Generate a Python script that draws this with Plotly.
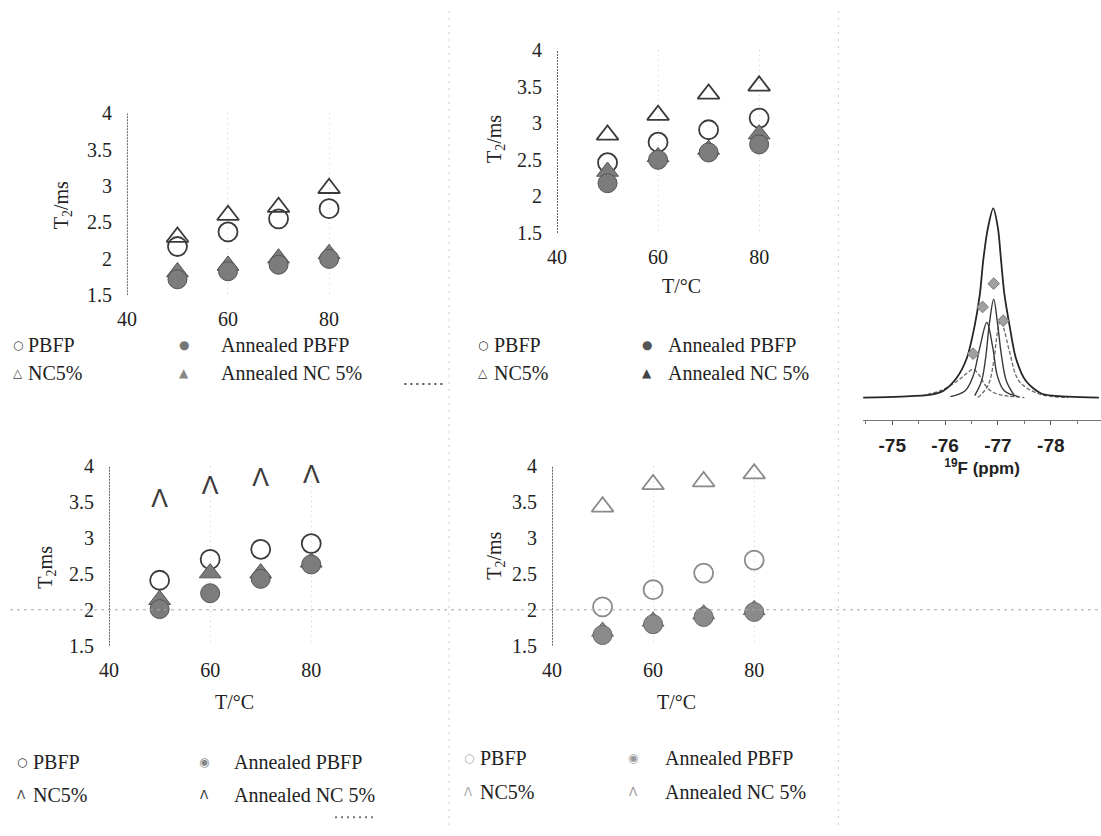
import plotly.graph_objects as go

W, H = 1101, 836

# ---- shared axis values ----
temps = [50, 60, 70, 80]
x_tick_vals = [40, 60, 80]
y_tick_vals = [1.5, 2, 2.5, 3, 3.5, 4]
y_tick_text = ["1.5", "2", "2.5", "3", "3.5", "4"]

# ---- T2 (ms) vs temperature, four panels ----
p1_pbfp = [2.17, 2.37, 2.55, 2.69]
p1_nc5 = [2.30, 2.60, 2.71, 2.97]
p1_ann_pbfp = [1.72, 1.83, 1.92, 2.00]
p1_ann_nc5 = [1.82, 1.91, 2.01, 2.07]

p2_pbfp = [2.46, 2.74, 2.91, 3.07]
p2_nc5 = [2.84, 3.11, 3.40, 3.51]
p2_ann_pbfp = [2.18, 2.50, 2.60, 2.71]
p2_ann_nc5 = [2.34, 2.54, 2.64, 2.85]

p3_pbfp = [2.41, 2.70, 2.84, 2.92]
p3_nc5 = [3.51, 3.69, 3.81, 3.85]
p3_ann_pbfp = [2.01, 2.23, 2.43, 2.63]
p3_ann_nc5 = [2.14, 2.51, 2.51, 2.66]

p4_pbfp = [2.04, 2.28, 2.51, 2.69]
p4_nc5 = [3.43, 3.74, 3.78, 3.89]
p4_ann_pbfp = [1.65, 1.80, 1.90, 1.97]
p4_ann_nc5 = [1.70, 1.84, 1.94, 2.00]

# ---- 19F spectrum with fitted components ----
spec_ticks = [-75, -76, -77, -78]
spec_tick_text = ["-75", "-76", "-77", "-78"]
total_ppm = [-74.44, -75.17, -75.73, -75.97, -76.22, -76.41, -76.56, -76.66, -76.72, -76.81,
             -76.91, -77.00, -77.06, -77.12, -77.22, -77.34, -77.53, -77.83, -78.33, -78.91]
total_int = [0.0, 0.005, 0.015, 0.036, 0.104, 0.207, 0.379, 0.549, 0.719, 0.892,
             0.996, 0.892, 0.719, 0.549, 0.379, 0.207, 0.087, 0.02, 0.005, 0.0]
compA_ppm = [-75.55, -75.91, -76.23, -76.42, -76.53, -76.64, -76.71, -76.82, -76.97, -77.20, -77.50]
compA_int = [0.01, 0.036, 0.087, 0.13, 0.149, 0.12, 0.087, 0.045, 0.02, 0.008, 0.0]
compB_ppm = [-76.10, -76.38, -76.53, -76.66, -76.79, -76.90, -76.99, -77.12, -77.40]
compB_int = [0.005, 0.036, 0.113, 0.267, 0.395, 0.267, 0.113, 0.036, 0.005]
compC_ppm = [-76.56, -76.69, -76.77, -76.84, -76.92, -76.99, -77.07, -77.16, -77.31]
compC_int = [0.01, 0.087, 0.215, 0.395, 0.518, 0.395, 0.215, 0.087, 0.01]
compD_ppm = [-76.62, -76.81, -76.92, -76.99, -77.05, -77.12, -77.22, -77.40, -77.77, -78.33]
compD_int = [0.0, 0.062, 0.19, 0.344, 0.405, 0.354, 0.241, 0.087, 0.02, 0.0]
peak_mark_ppm = [-76.53, -76.71, -76.92, -77.10]
peak_mark_int = [0.231, 0.477, 0.60, 0.405]

SERIF = "Liberation Serif"
TXT = "#222222"


def xdom(p0, p1):
    return [p0 / W, p1 / W]


def ydom(top, bottom):
    return [(H - bottom) / H, (H - top) / H]


fig = go.Figure()

# panel layout: (x pixel of T=40, y pixel of T2=4, y pixel of T2=1.5)
panels = [
    dict(x40=118, ytop=105, ybot=292, data=(p1_nc5, p1_pbfp, p1_ann_nc5, p1_ann_pbfp), style="A"),
    dict(x40=552, ytop=40, ybot=228, data=(p2_nc5, p2_pbfp, p2_ann_nc5, p2_ann_pbfp), style="A"),
    dict(x40=100, ytop=467, ybot=652, data=(p3_nc5, p3_pbfp, p3_ann_nc5, p3_ann_pbfp), style="L"),
    dict(x40=547, ytop=467, ybot=652, data=(p4_nc5, p4_pbfp, p4_ann_nc5, p4_ann_pbfp), style="P"),
]

shapes = []
for i, p in enumerate(panels, start=1):
    xa = "x" if i == 1 else f"x{i}"
    ya = "y" if i == 1 else f"y{i}"
    xkey = "xaxis" if i == 1 else f"xaxis{i}"
    ykey = "yaxis" if i == 1 else f"yaxis{i}"
    px_per_unit = 5.1
    fig.layout[xkey] = dict(
        domain=xdom(p["x40"], p["x40"] + 50 * px_per_unit), range=[40, 90], anchor=ya,
        tickvals=x_tick_vals, ticks="", showline=False, zeroline=False,
        showgrid=True, gridcolor="#d2d2d2", griddash="1px,4px", gridwidth=1,
        ticklabelstandoff=10, tickfont=dict(family=SERIF, size=20, color=TXT),
    )
    fig.layout[ykey] = dict(
        domain=ydom(p["ytop"], p["ybot"]), range=[1.5, 4], anchor=xa,
        tickvals=y_tick_vals, ticktext=y_tick_text, ticks="", showline=False,
        zeroline=False, showgrid=False, ticklabelstandoff=14,
        tickfont=dict(family=SERIF, size=20, color=TXT),
    )
    # vertical axis line at T = 40
    shapes.append(dict(type="line", xref=xa, yref=ya, x0=40, x1=40, y0=1.5, y1=4,
                       line=dict(color="#3c3c3c", width=1.6, dash="2px,1px")))

    nc5, pbfp, ann_nc5, ann_pbfp = p["data"]
    if p["style"] == "P":
        open_col, fill_col, fill_edge = "#8a8a8a", "#8a8a8a", "#6a6a6a"
    else:
        open_col, fill_col, fill_edge = "#3a3a3a", "#7c7c7c", "#555555"

    if p["style"] == "L":
        fig.add_trace(go.Scatter(x=temps, y=nc5, xaxis=xa, yaxis=ya, mode="text", text=["Λ"] * 4,
                                 textfont=dict(family="Liberation Sans", size=25, color="#3a3a3a"),
                                 name="NC5%", cliponaxis=False))
    else:
        fig.add_trace(go.Scatter(x=temps, y=nc5, xaxis=xa, yaxis=ya, mode="markers", name="NC5%",
                                 marker=dict(symbol="triangle-up-open", size=19, color=open_col,
                                             line=dict(color=open_col, width=1.8)),
                                 cliponaxis=False))
    fig.add_trace(go.Scatter(x=temps, y=pbfp, xaxis=xa, yaxis=ya, mode="markers", name="PBFP",
                             marker=dict(symbol="circle-open", size=19, color=open_col,
                                         line=dict(color=open_col, width=1.8)),
                             cliponaxis=False))
    fig.add_trace(go.Scatter(x=temps, y=ann_nc5, xaxis=xa, yaxis=ya, mode="markers",
                             name="Annealed NC 5%",
                             marker=dict(symbol="triangle-up", size=19, color=fill_col,
                                         line=dict(color=fill_edge, width=1)),
                             cliponaxis=False))
    fig.add_trace(go.Scatter(x=temps, y=ann_pbfp, xaxis=xa, yaxis=ya, mode="markers",
                             name="Annealed PBFP",
                             marker=dict(symbol="circle", size=19, color=fill_col,
                                         line=dict(color=fill_edge, width=1)),
                             cliponaxis=False))

# ---- spectrum inset ----
base_px, peak_px, axis_px, top_px = 397, 202, 420, 180
unit = base_px - peak_px
fig.layout["xaxis5"] = dict(
    domain=xdom(861, 1101), range=[-74.45, -78.95], anchor="y5",
    tickvals=spec_ticks, ticktext=spec_tick_text, showline=True, linecolor="#777777",
    linewidth=1, ticks="outside", ticklen=4, tickcolor="#555555", showgrid=False,
    zeroline=False, minor=dict(dtick=0.5, ticks="outside", ticklen=3, tickcolor="#777777"),
    tickfont=dict(family="Liberation Sans", size=19, color=TXT, weight="bold"),
    ticklabelstandoff=4,
    title=dict(text="<sup>19</sup>F (ppm)", standoff=2,
               font=dict(family="Liberation Sans", size=17, color=TXT, weight="bold")),
)
fig.layout["yaxis5"] = dict(
    domain=ydom(top_px, axis_px),
    range=[-(axis_px - base_px) / unit, (base_px - top_px) / unit],
    anchor="x5", visible=False,
)
fig.add_trace(go.Scatter(x=compA_ppm, y=compA_int, xaxis="x5", yaxis="y5", mode="lines",
                         line=dict(color="#6a6a6a", width=1.3, dash="4px,2px", shape="spline")))
fig.add_trace(go.Scatter(x=compD_ppm, y=compD_int, xaxis="x5", yaxis="y5", mode="lines",
                         line=dict(color="#6a6a6a", width=1.3, dash="4px,2px", shape="spline")))
fig.add_trace(go.Scatter(x=compB_ppm, y=compB_int, xaxis="x5", yaxis="y5", mode="lines",
                         line=dict(color="#3a3a3a", width=1.4, shape="spline")))
fig.add_trace(go.Scatter(x=compC_ppm, y=compC_int, xaxis="x5", yaxis="y5", mode="lines",
                         line=dict(color="#3a3a3a", width=1.4, shape="spline")))
fig.add_trace(go.Scatter(x=total_ppm, y=total_int, xaxis="x5", yaxis="y5", mode="lines",
                         line=dict(color="#262626", width=1.8, shape="spline", smoothing=0.8)))
fig.add_trace(go.Scatter(x=peak_mark_ppm, y=peak_mark_int, xaxis="x5", yaxis="y5", mode="markers",
                         marker=dict(symbol="diamond", size=9, color="#a0a0a0",
                                     line=dict(color="#7a7a7a", width=1))))

# ---- panel separators (dotted guide lines) ----
def pline(x0, y0, x1, y1, color, width=1, dash="dot"):
    shapes.append(dict(type="line", xref="paper", yref="paper",
                       x0=x0 / W, x1=x1 / W, y0=1 - y0 / H, y1=1 - y1 / H,
                       line=dict(color=color, width=width, dash=dash)))

pline(0, 615, W, 615, "#a8a8a8", 1, "3px,4px")
pline(443, 0, 443, H, "#cccccc", 1, "2px,5px")
pline(836, 0, 836, H, "#cccccc", 1, "2px,5px")
pline(398, 383, 440, 383, "#555555", 2, "2px,4px")
pline(328, 828, 368, 828, "#777777", 2, "2px,4px")

# ---- text: axis titles and legends ----
ann = []


def text_at(x, y, s, size=20, color=TXT, xanchor="left", angle=0, family=SERIF):
    ann.append(dict(xref="paper", yref="paper", x=x / W, y=1 - y / H, text=s, showarrow=False,
                    xanchor=xanchor, yanchor="middle", textangle=angle,
                    font=dict(family=family, size=size, color=color)))


text_at(53, 200, "T<sub>2</sub>/ms", xanchor="center", angle=-90)
text_at(490, 132, "T<sub>2</sub>/ms", xanchor="center", angle=-90)
text_at(37, 571, "T<sub>2</sub>ms", xanchor="center", angle=-90)
text_at(490, 560, "T<sub>2</sub>/ms", xanchor="center", angle=-90)

text_at(678, 282, "T/°C", xanchor="center")
text_at(227, 710, "T/°C", xanchor="center")
text_at(673, 710, "T/°C", xanchor="center")

SYM = "DejaVu Sans"
legend_blocks = [
    # (row1 y, row2 y, x sym1, x text1, x sym2, x text2, glyphs, glyph colours)
    (343, 372, 8, 16, 176, 211, ("○", "●", "△", "▲"), ("#444", "#777", "#444", "#888")),
    (343, 372, 477, 486, 643, 662, ("○", "●", "△", "▲"), ("#333", "#555", "#333", "#444")),
    (771, 805, 12, 21, 196, 224, ("○", "◉", "Λ", "Λ"), ("#333", "#888", "#444", "#333")),
    (767, 802, 463, 472, 629, 659, ("○", "◉", "Λ", "Λ"), ("#aaa", "#999", "#aaa", "#999")),
]
for r1, r2, xs1, xt1, xs2, xt2, g, c in legend_blocks:
    text_at(xs1, r1, g[0], size=12, color=c[0], xanchor="center", family=SYM)
    text_at(xt1, r1, "PBFP")
    text_at(xs2, r1, g[1], size=12, color=c[1], xanchor="center", family=SYM)
    text_at(xt2, r1, "Annealed PBFP")
    text_at(xs1, r2, g[2], size=12, color=c[2], xanchor="center", family=SYM)
    text_at(xt1, r2, "NC5%")
    text_at(xs2, r2, g[3], size=12, color=c[3], xanchor="center", family=SYM)
    text_at(xt2, r2, "Annealed NC 5%")

fig.update_layout(
    width=W, height=H, margin=dict(l=0, r=0, t=0, b=0),
    paper_bgcolor="white", plot_bgcolor="white", showlegend=False,
    shapes=shapes, annotations=ann,
)

fig.write_html("out.html")
